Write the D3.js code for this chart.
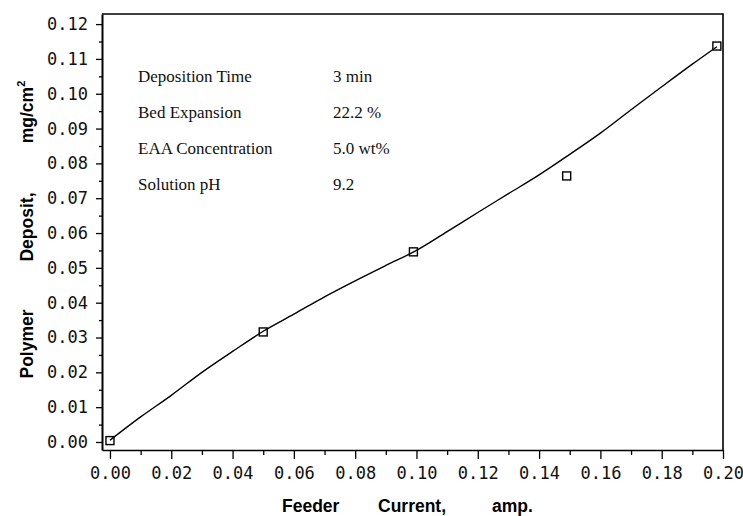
<!DOCTYPE html>
<html>
<head>
<meta charset="utf-8">
<script src="https://cdn.jsdelivr.net/npm/d3@7"></script>
<style>
  body { margin: 0; background: #fff; }
</style>
</head>
<body>
<div id="chart-container"></div>
<script>
// measured points (feeder current, amp  ->  deposit, mg/cm2)
const currents = [0.000, 0.050, 0.099, 0.149, 0.198];
const deposits = [0.0004, 0.0316, 0.0546, 0.0764, 0.1137];

// fitted curve
const fitCurrents = [0.000, 0.010, 0.020, 0.030, 0.040, 0.050, 0.060, 0.070, 0.080, 0.090, 0.100,
                     0.110, 0.120, 0.130, 0.140, 0.150, 0.160, 0.170, 0.180, 0.190, 0.198];
const fitDeposits = [0.0005, 0.0072, 0.0134, 0.0200, 0.0260, 0.0318, 0.0367, 0.0417, 0.0463, 0.0507, 0.0550,
                     0.0604, 0.0659, 0.0713, 0.0767, 0.0826, 0.0887, 0.0954, 0.1020, 0.1085, 0.1135];

const xTicks = [0.00, 0.02, 0.04, 0.06, 0.08, 0.10, 0.12, 0.14, 0.16, 0.18, 0.20];
const xMinor = [0.01, 0.03, 0.05, 0.07, 0.09, 0.11, 0.13, 0.15, 0.17, 0.19];
const yTicks = [0.00, 0.01, 0.02, 0.03, 0.04, 0.05, 0.06, 0.07, 0.08, 0.09, 0.10, 0.11, 0.12];
const yMinor = [0.005, 0.015, 0.025, 0.035, 0.045, 0.055, 0.065, 0.075, 0.085, 0.095, 0.105, 0.115];

const notesLabels = ["Deposition Time", "Bed Expansion", "EAA Concentration", "Solution pH"];
const notesValues = ["3 min", "22.2 %", "5.0 wt%", "9.2"];

const width = 743;
const height = 516;
const plot = { left: 102, right: 723, top: 14, bottom: 450 };

const svg = d3.select("#chart-container")
    .append("svg")
    .attr("width", width)
    .attr("height", height);

const x = d3.scaleLinear()
    .domain([-0.0026, 0.20])
    .range([plot.left, plot.right]);

const y = d3.scaleLinear()
    .domain([-0.0023, 0.1229])
    .range([plot.bottom, plot.top]);

const monoFont = "'DejaVu Sans Mono', 'Liberation Mono', monospace";

// minor ticks first, then the labelled axes on top
svg.append("g")
    .attr("transform", `translate(0, ${plot.bottom})`)
    .call(d3.axisBottom(x).tickValues(xMinor).tickSize(5).tickFormat("").tickSizeOuter(0))
    .call(g => g.select(".domain").remove());

svg.append("g")
    .attr("transform", `translate(${plot.left}, 0)`)
    .call(d3.axisLeft(y).tickValues(yMinor).tickSize(3).tickFormat("").tickSizeOuter(0))
    .call(g => g.select(".domain").remove());

const xAxis = svg.append("g")
    .attr("transform", `translate(0, ${plot.bottom})`)
    .call(d3.axisBottom(x)
        .tickValues(xTicks)
        .tickSize(9)
        .tickPadding(8)
        .tickSizeOuter(0)
        .tickFormat(d3.format(".2f")));

const yAxis = svg.append("g")
    .attr("transform", `translate(${plot.left}, 0)`)
    .call(d3.axisLeft(y)
        .tickValues(yTicks)
        .tickSize(6)
        .tickPadding(8)
        .tickSizeOuter(0)
        .tickFormat(d3.format(".2f")));

svg.selectAll(".tick line").attr("stroke", "#000").attr("stroke-width", 1.3);
xAxis.select(".domain").attr("stroke", "#000").attr("stroke-width", 1.6);
yAxis.select(".domain").attr("stroke", "#000").attr("stroke-width", 2);

svg.selectAll(".tick text")
    .attr("font-family", monoFont)
    .attr("font-size", 17)
    .attr("fill", "#111");

// top and right frame
svg.append("path")
    .attr("d", `M${plot.left},${plot.top}H${plot.right}V${plot.bottom}`)
    .attr("fill", "none")
    .attr("stroke", "#000")
    .attr("stroke-width", 1.6);

// fitted curve
const fit = fitCurrents.map((c, i) => ({ c: c, d: fitDeposits[i] }));
svg.append("path")
    .datum(fit)
    .attr("fill", "none")
    .attr("stroke", "#000")
    .attr("stroke-width", 1.4)
    .attr("d", d3.line()
        .x(d => x(d.c))
        .y(d => y(d.d))
        .curve(d3.curveMonotoneX));

// open square markers
const pts = currents.map((c, i) => ({ c: c, d: deposits[i] }));
svg.selectAll(".pt")
    .data(pts)
    .enter().append("rect")
    .attr("class", "pt")
    .attr("x", d => x(d.c) - 4)
    .attr("y", d => y(d.d) - 4)
    .attr("width", 8)
    .attr("height", 8)
    .attr("fill", "none")
    .attr("stroke", "#000")
    .attr("stroke-width", 1.4);

// run conditions
const notes = svg.append("g")
    .attr("font-family", "'Liberation Serif', 'Times New Roman', serif")
    .attr("font-size", 17)
    .attr("fill", "#111");

notes.selectAll(".lbl")
    .data(notesLabels)
    .enter().append("text")
    .attr("x", 138)
    .attr("y", (d, i) => 82 + i * 36)
    .text(d => d);

notes.selectAll(".val")
    .data(notesValues)
    .enter().append("text")
    .attr("x", 333)
    .attr("y", (d, i) => 82 + i * 36)
    .text(d => d);

// axis titles
const titleFont = "'Liberation Sans', Arial, Helvetica, sans-serif";

const xTitle = svg.append("text")
    .attr("font-family", titleFont)
    .attr("font-weight", "bold")
    .attr("font-size", 17.5)
    .attr("y", 512);
xTitle.append("tspan").attr("x", 282).text("Feeder");
xTitle.append("tspan").attr("x", 378).text("Current,");
xTitle.append("tspan").attr("x", 492).text("amp.");

const yTitle = svg.append("g")
    .attr("transform", "translate(33, 0) rotate(-90)")
    .attr("font-family", titleFont)
    .attr("font-weight", "bold")
    .attr("font-size", 17.5)
    .attr("text-anchor", "middle");

yTitle.append("text").attr("x", -344).text("Polymer");
yTitle.append("text").attr("x", -227).text("Deposit,");
const unit = yTitle.append("text").attr("x", -112);
unit.append("tspan").text("mg/cm");
unit.append("tspan").attr("font-size", 11).attr("dy", -8).text("2");
</script>
</body>
</html>
